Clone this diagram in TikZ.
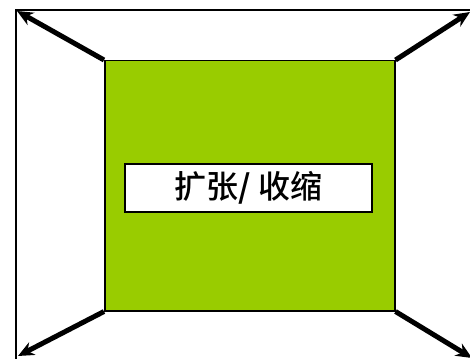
\documentclass[tikz,border=0pt]{standalone}
\usepackage{fontspec}
\newfontfamily\cjk[BoldFont={Noto Sans CJK SC Bold}]{Noto Sans CJK SC Medium}
\usetikzlibrary{arrows.meta}
\definecolor{leaf}{HTML}{99CC00}
\tikzset{
  outerbox/.style={draw=black,line width=2pt},
  greenbox/.style={draw=black,line width=1.5pt,fill=leaf},
  labelbox/.style={draw=black,line width=1.5pt,fill=white,inner sep=0pt},
  push/.style={line width=5pt,-{Stealth[length=16pt,width=14pt]}}
}
\begin{document}
\begin{tikzpicture}[x=1pt,y=-1pt]
\useasboundingbox (0,0) rectangle (470,358);
\begin{scope}
\clip (0,0) rectangle (470,358);
\draw[outerbox] (16,10) rectangle (490,378);
\node[greenbox,minimum width=290pt,minimum height=250pt,anchor=north west] (g) at (104,60) {};
\node[labelbox,minimum width=247pt,minimum height=48pt] (t) at (248.5,188) {\cjk\fontsize{32pt}{34pt}\selectfont 扩张\textbf{/} 收缩};
\coordinate (tl) at (17,11);
\coordinate (tr) at (470,12);
\coordinate (bl) at (18,356);
\coordinate (br) at (472,358);
\draw[push] (g.north west) -- (tl);
\draw[push] (g.north east) -- (tr);
\draw[push] (g.south west) -- (bl);
\draw[push] (g.south east) -- (br);
\end{scope}
\end{tikzpicture}
\end{document}
